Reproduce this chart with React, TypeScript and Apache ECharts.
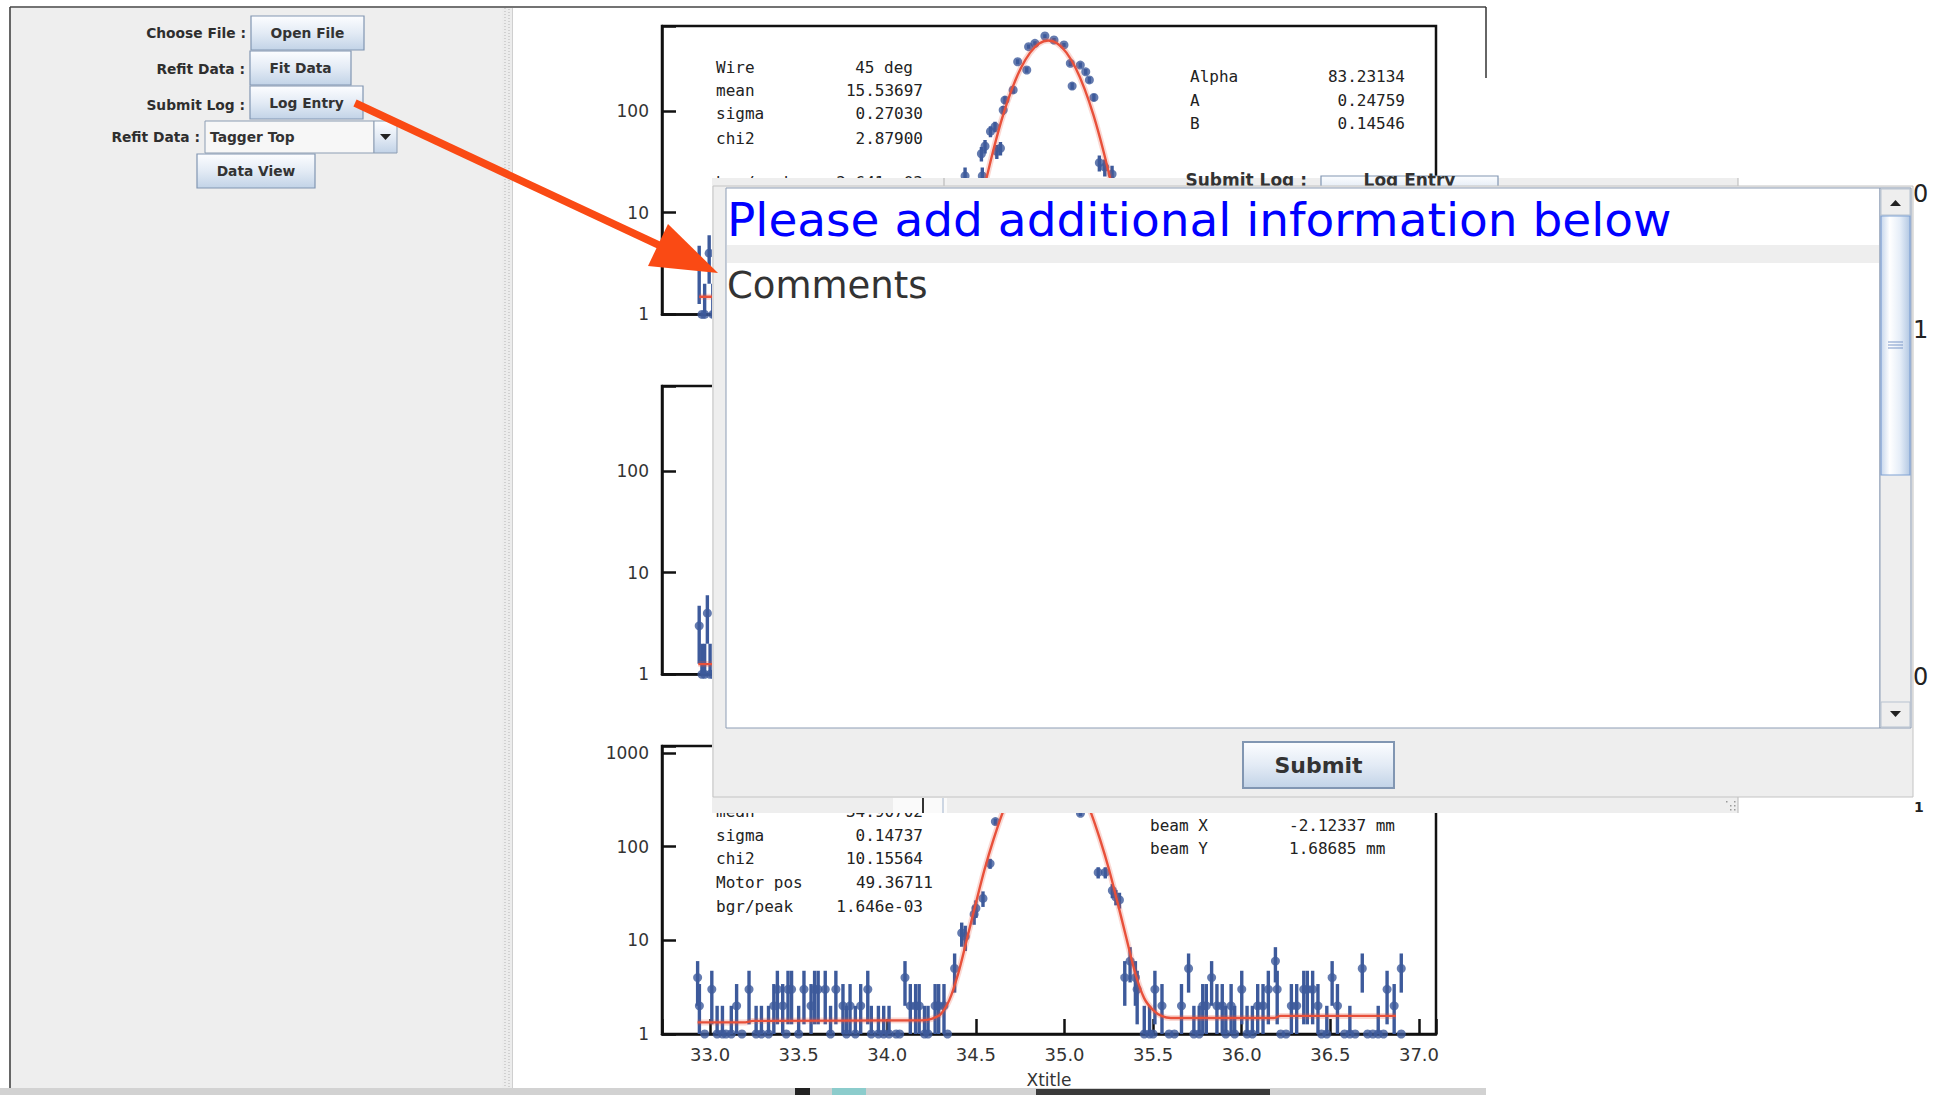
import React, { useEffect, useRef } from 'react';
import * as echarts from 'echarts';

// ---------------- data ----------------
// Panel 1 (top): visible scan points (left edge + peak above the dialog)
const plot1Range = [11.28, 19.81];
const plot1Max = 685;
const plot1X = [11.69, 11.72, 11.75, 11.80, 11.84, 11.86, 14.62, 14.80, 14.81, 14.84, 14.90, 14.95, 14.97, 15.01, 15.04, 15.06, 15.15, 15.20, 15.30, 15.32, 15.39, 15.50, 15.60, 15.71, 15.78, 15.80, 15.89, 15.95, 15.99, 16.04, 16.10, 16.16, 16.24];
const plot1Counts = [3, 0, 1, 4, 1, 0, 23, 38, 23, 45, 63, 70, 40, 43, 102, 128, 161, 305, 253, 429, 463, 546, 499, 446, 294, 176, 283, 243, 202, 136, 31, 28, 24];
const fit1X = [11.69, 14.30, 14.437, 14.537, 14.637, 14.737, 14.837, 14.937, 15.037, 15.137, 15.237, 15.337, 15.437, 15.537, 15.637, 15.737, 15.837, 15.937, 16.037, 16.137, 16.237, 16.337, 16.437, 16.537, 16.637, 16.80, 19.40];
const fit1Y = [1.49, 1.49, 1.62, 2.0, 3.4, 7.6, 18.5, 43, 90, 165, 266, 375, 461, 493, 461, 375, 266, 165, 90, 43, 18.5, 7.6, 3.4, 2.0, 1.62, 1.5, 1.5];

// Panel 2 (middle): only its left edge is visible
const plot2Range = [20.0, 28.53];
const plot2Max = 688;
const plot2X = [20.41, 20.44, 20.47, 20.50, 20.53, 20.56];
const plot2Counts = [3, 1, 1, 4, 1, 0];
const fit2X = [20.40, 28.20];
const fit2Y = [1.26, 1.26];

// Panel 3 (bottom)
const plot3Range = [32.729, 37.096];
const plot3Max = 1186;
const plot3X = [
  32.93, 32.94, 32.97, 33.01, 33.04, 33.07, 33.09, 33.12, 33.15, 33.18,
  33.22, 33.26, 33.29, 33.33, 33.36, 33.38, 33.41, 33.43, 33.44, 33.46,
  33.50, 33.53, 33.57, 33.59, 33.61, 33.65, 33.68, 33.71, 33.75, 33.77,
  33.79, 33.82, 33.85, 33.89, 33.91, 33.95, 33.98, 34.01, 34.05, 34.07,
  34.10, 34.13, 34.16, 34.18, 34.21, 34.23, 34.27, 34.29, 34.32, 34.34,
  34.38, 34.42, 34.44, 34.49, 34.50, 34.54, 34.58, 34.61, 34.64, 34.67,
  34.70, 34.73, 34.76, 34.79, 34.82, 34.85, 34.88, 34.91, 34.94, 34.97,
  35.00, 35.03, 35.06, 35.09, 35.12, 35.19, 35.23, 35.27, 35.29, 35.31,
  35.34, 35.37, 35.40, 35.41, 35.45, 35.48, 35.50, 35.51, 35.55, 35.59,
  35.62, 35.66, 35.70, 35.73, 35.76, 35.78, 35.80, 35.83, 35.86, 35.89,
  35.91, 35.94, 35.96, 36.00, 36.03, 36.06, 36.09, 36.12, 36.15, 36.19,
  36.20, 36.22, 36.25, 36.28, 36.31, 36.35, 36.37, 36.40, 36.43, 36.45,
  36.48, 36.51, 36.54, 36.58, 36.61, 36.64, 36.68, 36.71, 36.74, 36.77,
  36.80, 36.82, 36.86, 36.90, 36.90];
const plot3Counts = [
  4, 2, 0, 3, 1, 1, 0, 1, 2, 0,
  3, 1, 1, 1, 2, 3, 2, 0, 3, 3,
  1, 3, 2, 3, 3, 3, 1, 3, 2, 1,
  2, 1, 2, 3, 1, 1, 1, 1, 0, 0,
  4, 2, 2, 2, 1, 1, 2, 2, 2, 0,
  5, 12, 11, 19, 22, 28, 66, 185, 260, 330,
  410, 500, 610, 720, 830, 890, 960, 940, 900, 820,
  720, 600, 430, 227, 260, 53, 53, 34, 29, 27,
  4, 6, 4, 3, 1, 1, 0, 3, 2, 0,
  0, 2, 5, 1, 1, 2, 2, 4, 2, 2,
  1, 2, 1, 3, 1, 1, 2, 2, 3, 6,
  3, 0, 0, 2, 2, 3, 3, 3, 2, 0,
  1, 4, 2, 0, 1, 0, 5, 0, 0, 1,
  0, 3, 2, 5, 0];
const fit3X = [32.93, 33.20, 33.24, 34.20, 34.25, 34.30, 34.35, 34.40, 34.45, 34.50, 34.55, 34.60, 34.65, 34.70, 34.75, 34.80, 34.85, 34.90, 34.95, 35.00, 35.05, 35.10, 35.15, 35.20, 35.25, 35.30, 35.35, 35.40, 35.45, 35.50, 35.55, 35.60, 36.18, 36.22, 36.87];
const fit3Y = [1.33, 1.33, 1.38, 1.40, 1.45, 1.62, 2.3, 4.4, 10.4, 25, 58, 120, 228, 383, 573, 766, 911, 966, 911, 766, 573, 383, 228, 120, 58, 25, 10.4, 4.4, 2.4, 1.8, 1.55, 1.48, 1.48, 1.56, 1.56];

// Statistics boxes
const stats1Labels = ['Wire', 'mean', 'sigma', 'chi2', 'bgr/peak'];
const stats1Values = ['45 deg', '15.53697', '0.27030', '2.87900', '2.641e-03'];
const stats1Right = ['Alpha', 'A', 'B'];
const stats1RightValues = ['83.23134', '0.24759', '0.14546'];
const stats3Labels = ['Wire', 'mean', 'sigma', 'chi2', 'Motor pos', 'bgr/peak'];
const stats3Values = ['90 deg', '34.90702', '0.14737', '10.15564', '49.36711', '1.646e-03'];
const stats3Right = ['Alpha', 'beam X', 'beam Y'];
const stats3RightValues = ['45.00000', '-2.12337 mm', '1.68685 mm'];

// UI texts
const formLabels = ['Choose File :', 'Refit Data :', 'Submit Log :', 'Refit Data :'];
const formButtons = ['Open File', 'Fit Data', 'Log Entry', 'Data View'];
const comboText = 'Tagger Top';
const dialogTitle = 'Please add additional information below';
const dialogComments = 'Comments';
const submitText = 'Submit';
const xTitle = 'Xtitle';

// ---------------- styling ----------------
const BLUE = '#3d5a9b';
const RED = '#e8503a';
const MONO = 'DejaVu Sans Mono';
const SANS = 'DejaVu Sans';

function txt(x: number, y: number, text: string, size: number, o: any = {}) {
  return {
    type: 'text', x, y, z: o.z ?? 10, silent: true,
    style: {
      text, fill: o.fill ?? '#222', fontSize: size, fontFamily: o.family ?? SANS,
      fontWeight: o.weight ?? 'normal', align: o.align ?? 'left', verticalAlign: 'middle',
    },
  };
}
function rect(x: number, y: number, w: number, h: number, fill: any, o: any = {}) {
  const style: any = { fill };
  if (o.stroke) { style.stroke = o.stroke; style.lineWidth = o.lw ?? 1; }
  return { type: 'rect', z: o.z ?? 1, silent: true, shape: { x, y, width: w, height: h }, style };
}
function ln(x1: number, y1: number, x2: number, y2: number, stroke: string, lw: number, o: any = {}) {
  const style: any = { stroke, lineWidth: lw };
  if (o.dash) style.lineDash = o.dash;
  return { type: 'line', z: o.z ?? 1, silent: true, shape: { x1, y1, x2, y2 }, style };
}
function poly(points: number[][], fill: string, z: number) {
  return { type: 'polygon', z, silent: true, shape: { points }, style: { fill } };
}
const btnGrad = () => new echarts.graphic.LinearGradient(0, 0, 0, 1, [
  { offset: 0, color: '#fcfdff' }, { offset: 0.5, color: '#e3ebf5' }, { offset: 1, color: '#c2d3e7' },
]);
function button(x: number, y: number, w: number, h: number, label: string, size: number, z: number, lw = 1.2, ty?: number) {
  return [
    rect(x, y, w, h, btnGrad(), { stroke: '#8196b2', lw, z }),
    txt(x + w / 2, ty ?? y + h / 2, label, size, { weight: 'bold', align: 'center', fill: '#333', z: z + 1 }),
  ];
}

function errRender(params: any, api: any) {
  const x = api.value(0), lo = api.value(1), hi = api.value(2);
  if (!(hi > lo)) return { type: 'group', children: [] };
  const a = api.coord([x, lo]);
  const b = api.coord([x, hi]);
  return { type: 'line', shape: { x1: a[0], y1: a[1], x2: b[0], y2: b[1] }, style: { stroke: BLUE, lineWidth: 3.4 } };
}

function plotSeries(gi: number, xs: number[], counts: number[], fx: number[], fy: number[]) {
  const pts = xs.map((x, i) => [x, Math.max(counts[i], 1)]);
  const bars = xs.map((x, i) => {
    const c = counts[i];
    const e = Math.sqrt(c);
    return [x, Math.max(c - e, 1), Math.max(c + e, 1)];
  });
  const fit = fx.map((x, i) => [x, fy[i]]);
  return [
    { type: 'custom', xAxisIndex: gi, yAxisIndex: gi, data: bars, encode: { x: 0, y: [1, 2] }, renderItem: errRender, z: 2, clip: true },
    { type: 'scatter', xAxisIndex: gi, yAxisIndex: gi, data: pts, symbol: 'circle', symbolSize: 9, itemStyle: { color: BLUE }, z: 3 },
    { type: 'line', xAxisIndex: gi, yAxisIndex: gi, data: fit, symbol: 'none', smooth: 0.3, lineStyle: { width: 6, color: 'rgba(232,80,58,0.22)' }, z: 4 },
    { type: 'line', xAxisIndex: gi, yAxisIndex: gi, data: fit, symbol: 'none', smooth: 0.3, lineStyle: { width: 2.4, color: RED }, z: 4 },
  ];
}

const logFmt = (v: number) => {
  const l = Math.log10(v);
  return Math.abs(l - Math.round(l)) < 1e-6 ? String(Math.round(v)) : '';
};
function yAx(gi: number, max: number) {
  return {
    type: 'log', logBase: 10, gridIndex: gi, min: 1, max,
    axisLine: { show: true, lineStyle: { color: '#111', width: 2.5 } },
    axisTick: { show: true, inside: true, length: 14, lineStyle: { color: '#111', width: 2.5 } },
    minorTick: { show: false }, splitLine: { show: false },
    axisLabel: { margin: 13, color: '#333', fontSize: 17, fontFamily: SANS, formatter: logFmt },
  };
}
function xAx(gi: number, range: number[], labels: boolean) {
  const base: any = {
    type: 'value', gridIndex: gi, min: range[0], max: range[1],
    axisLine: { show: true, onZero: false, lineStyle: { color: '#111', width: 2.5 } },
    splitLine: { show: false },
  };
  if (!labels) {
    base.axisTick = { show: false };
    base.axisLabel = { show: false };
  } else {
    base.splitNumber = 9;
    base.axisTick = { show: true, inside: true, length: 15, lineStyle: { color: '#111', width: 2.5 } };
    base.axisLabel = {
      margin: 11, color: '#333', fontSize: 18, fontFamily: SANS,
      formatter: (v: number) => (Math.abs(v * 2 - Math.round(v * 2)) < 1e-6 ? v.toFixed(1) : ''),
    };
    base.name = xTitle;
    base.nameLocation = 'middle';
    base.nameGap = 37;
    base.nameTextStyle = { color: '#333', fontSize: 17, fontFamily: SANS };
  }
  return base;
}

function buildGraphic() {
  const g: any[] = [];
  // window frame & left panel
  g.push(rect(11, 8, 491, 1080, '#eeeeee', { z: 0 }));
  g.push(ln(10, 7, 10, 1088, '#333', 1.5, { z: 1 }));
  g.push(ln(10, 7, 1486, 7, '#444', 1.5, { z: 1 }));
  g.push(ln(1486, 7, 1486, 78, '#333', 1.5, { z: 1 }));
  g.push(rect(502, 8, 10, 1080, '#ececec', { z: 0 }));
  g.push(ln(505, 8, 505, 1088, '#b5b5b5', 1, { z: 1, dash: [1, 2] }));
  g.push(ln(509, 9, 509, 1088, '#b5b5b5', 1, { z: 1, dash: [1, 2] }));
  g.push(ln(512.5, 8, 512.5, 1088, '#cfcfcf', 1, { z: 1 }));
  // bottom screen strip
  g.push(rect(0, 1088, 1486, 7, '#d2d2d2', { z: 1 }));
  g.push(rect(795, 1088, 15, 7, '#222', { z: 2 }));
  g.push(rect(832, 1088, 34, 7, '#8ccccc', { z: 2 }));
  g.push(rect(1036, 1089, 234, 6, '#3a3a3a', { z: 2 }));

  // form
  const labelPos = [[246, 33], [245, 69], [245, 105], [200, 137]];
  formLabels.forEach((t, i) => g.push(txt(labelPos[i][0], labelPos[i][1], t, 13.8, { weight: 'bold', align: 'right', fill: '#2e2e2e', z: 3 })));
  const btnPos = [[251, 16, 113, 34], [250, 51, 101, 34], [250, 86, 113, 33], [197, 154, 118, 34]];
  formButtons.forEach((t, i) => g.push(...button(btnPos[i][0], btnPos[i][1], btnPos[i][2], btnPos[i][3], t, 13.8, 3)));
  g.push(rect(205, 121, 169, 32, '#f7f7f7', { stroke: '#8c9db3', z: 3 }));
  g.push(txt(210, 137, comboText, 13.8, { weight: 'bold', fill: '#333', z: 4 }));
  g.push(rect(374, 121, 23, 32, btnGrad(), { stroke: '#8c9db3', z: 3 }));
  g.push(poly([[380, 134], [391, 134], [385.5, 140]], '#222', 4));

  // statistics boxes
  const r1 = [67, 90, 113, 138, 182];
  stats1Labels.forEach((t, i) => {
    g.push(txt(716, r1[i], t, 16, { family: MONO, z: 10 }));
    g.push(txt(i === 0 ? 913 : 923, r1[i], stats1Values[i], 16, { family: MONO, align: 'right', z: 10 }));
  });
  const r1r = [76, 100, 123];
  stats1Right.forEach((t, i) => {
    g.push(txt(1190, r1r[i], t, 16, { family: MONO, z: 10 }));
    g.push(txt(1405, r1r[i], stats1RightValues[i], 16, { family: MONO, align: 'right', z: 10 }));
  });
  const r3 = [787, 811, 835, 858, 882, 906];
  stats3Labels.forEach((t, i) => {
    g.push(txt(716, r3[i], t, 16, { family: MONO, z: 10 }));
    const vx = i === 0 ? 913 : i === 4 ? 933 : 923;
    g.push(txt(vx, r3[i], stats3Values[i], 16, { family: MONO, align: 'right', z: 10 }));
  });
  const r3r = [801, 825, 848];
  stats3Right.forEach((t, i) => {
    g.push(txt(1150, r3r[i], t, 16, { family: MONO, z: 10 }));
    g.push(txt(1289, r3r[i], stats3RightValues[i], 16, { family: MONO, z: 10 }));
  });

  // background window behind the dialog
  g.push(rect(712, 178, 1026, 635, '#eeeeee', { z: 95 }));
  g.push(ln(944, 178, 944, 187, '#b0b0b0', 1, { z: 96 }));
  g.push(ln(1738, 178, 1738, 813, '#b8b8b8', 1, { z: 96 }));
  g.push(txt(1307, 180, formLabels[2], 17, { weight: 'bold', align: 'right', fill: '#333', z: 96 }));
  g.push(...button(1321, 176, 177, 24, formButtons[2], 17, 96, 1.2, 180));
  g.push(rect(893, 798, 54, 15, '#fafafa', { z: 96 }));
  g.push(ln(923, 798, 923, 813, '#333', 2, { z: 97 }));
  g.push(ln(943, 798, 943, 813, '#9fb2cc', 1, { z: 97 }));
  [[1726, 801], [1730, 805], [1734, 809], [1734, 801], [1734, 805], [1730, 809]].forEach((p) =>
    g.push(rect(p[0], p[1], 1.5, 1.5, '#999', { z: 97 })));

  // dialog
  g.push(rect(713, 186, 1200, 611, '#eeeeee', { stroke: '#c4c4c4', lw: 1, z: 100 }));
  g.push(rect(726, 188, 1154, 540, '#ffffff', { stroke: '#8d9db5', lw: 1, z: 101 }));
  g.push(rect(727, 245, 1152, 18, '#eeeeee', { z: 102 }));
  g.push(txt(727, 219, dialogTitle, 47, { fill: '#0000ff', z: 103 }));
  g.push(txt(727, 285, dialogComments, 37, { fill: '#333333', z: 103 }));
  // scrollbar
  g.push(rect(1880, 188, 31, 540, '#eeeeee', { stroke: '#8d9db5', lw: 1, z: 101 }));
  g.push(rect(1881, 189, 29, 26, '#eeeeee', { stroke: '#b7c2d0', lw: 1, z: 102 }));
  g.push(poly([[1890, 206], [1901, 206], [1895.5, 200]], '#222', 103));
  const thumbGrad = new echarts.graphic.LinearGradient(0, 0, 1, 0, [
    { offset: 0, color: '#c6d6ec' }, { offset: 0.3, color: '#ffffff' }, { offset: 0.65, color: '#e6eef8' }, { offset: 1, color: '#b3c8e3' },
  ]);
  g.push(rect(1881, 216, 29, 259, thumbGrad, { stroke: '#7fa1d4', lw: 1.2, z: 102 }));
  [342, 345, 348].forEach((y) => g.push(ln(1888, y, 1903, y, '#7b97c8', 1, { z: 103 })));
  g.push(rect(1881, 702, 29, 25, '#eeeeee', { stroke: '#b7c2d0', lw: 1, z: 102 }));
  g.push(poly([[1890, 711], [1901, 711], [1895.5, 717]], '#222', 103));
  g.push(...button(1243, 742, 151, 46, submitText, 22, 102, 2));

  // other window's axis digits at the far right
  g.push(txt(1913, 194, '0', 24, { fill: '#222', z: 90 }));
  g.push(txt(1913, 330, '1', 24, { fill: '#222', z: 90 }));
  g.push(txt(1913, 677, '0', 24, { fill: '#222', z: 90 }));
  g.push(txt(1914, 807, '1', 14, { fill: '#222', weight: 'bold', z: 90 }));

  // arrow
  g.push({ type: 'line', z: 200, silent: true, shape: { x1: 355, y1: 103, x2: 680, y2: 255 }, style: { stroke: '#fa4a14', lineWidth: 7.5 } });
  g.push(poly([[718, 273], [668, 224], [648, 266]], '#fa4a14', 201));
  return g;
}

export default function App() {
  const ref = useRef<HTMLDivElement>(null);
  useEffect(() => {
    if (!ref.current) return;
    const chart = echarts.init(ref.current, undefined, { renderer: 'svg' });
    const gridBase = { show: true, borderColor: '#111', borderWidth: 2.5, backgroundColor: 'transparent', containLabel: false, outerBoundsMode: 'none' };
    chart.setOption({
      animation: false,
      backgroundColor: '#ffffff',
      grid: [
        { ...gridBase, left: 662, top: 26, width: 774, height: 288.4 },
        { ...gridBase, left: 662, top: 386, width: 774, height: 288.3 },
        { ...gridBase, left: 662, top: 746, width: 774, height: 288 },
      ],
      xAxis: [xAx(0, plot1Range, false), xAx(1, plot2Range, false), xAx(2, plot3Range, true)],
      yAxis: [yAx(0, plot1Max), yAx(1, plot2Max), yAx(2, plot3Max)],
      series: [
        ...plotSeries(0, plot1X, plot1Counts, fit1X, fit1Y),
        ...plotSeries(1, plot2X, plot2Counts, fit2X, fit2Y),
        ...plotSeries(2, plot3X, plot3Counts, fit3X, fit3Y),
      ],
      graphic: buildGraphic(),
    });
    return () => chart.dispose();
  }, []);
  return <div ref={ref} style={{ position: 'fixed', left: 0, top: 0, width: 1933, height: 1095 }} />;
}
